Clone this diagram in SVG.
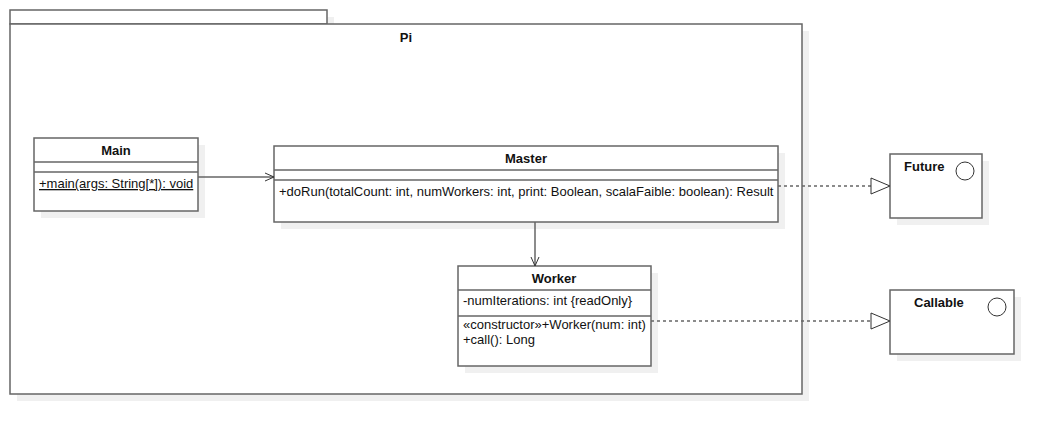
<svg xmlns="http://www.w3.org/2000/svg" width="1054" height="434" viewBox="0 0 1054 434">
<defs>
<style>
.box{fill:#fff;stroke:#666;stroke-width:1.5}
.sh{fill:#f0f0f0;stroke:none}
.ln{stroke:#666;stroke-width:1.5;fill:none}
.t{font-family:"Liberation Sans",Arial,sans-serif;font-size:13px;fill:#111}
.b{font-weight:bold}
.dash{stroke:#666;stroke-width:1.5;fill:none;stroke-dasharray:3 3}
</style>
<marker id="open" markerWidth="12" markerHeight="12" refX="10" refY="5" orient="auto" markerUnits="userSpaceOnUse">
<path d="M1,1 L10,5 L1,9" fill="none" stroke="#333" stroke-width="1"/>
</marker>
<marker id="tri" markerWidth="22" markerHeight="20" refX="20" refY="9" orient="auto" markerUnits="userSpaceOnUse">
<path d="M1,1 L20,9 L1,17 Z" fill="#fff" stroke="#333" stroke-width="1"/>
</marker>
</defs>
<rect width="1054" height="434" fill="#fff"/>
<g id="Pi">
<rect class="sh" x="17" y="17" width="317" height="14"/>
<rect class="sh" x="17" y="31" width="792" height="370"/>
<rect class="box" x="10" y="10" width="317" height="14"/>
<rect class="box" x="10" y="24" width="792" height="370"/>
<text class="t b" x="406" y="42" text-anchor="middle">Pi</text>
</g>
<g id="Main">
<rect class="sh" x="41" y="145" width="164" height="73"/>
<rect class="box" x="34" y="138" width="164" height="73"/>
<line class="ln" x1="34" y1="162" x2="198" y2="162"/>
<line class="ln" x1="34" y1="172" x2="198" y2="172"/>
<text class="t b" x="116" y="155" text-anchor="middle">Main</text>
<text class="t" x="39" y="188" text-decoration="underline">+main(args: String[*]): void</text>
</g>
<g id="Master">
<rect class="sh" x="281" y="153" width="504" height="76"/>
<rect class="box" x="274" y="146" width="504" height="76"/>
<line class="ln" x1="274" y1="170" x2="778" y2="170"/>
<line class="ln" x1="274" y1="180" x2="778" y2="180"/>
<text class="t b" x="526" y="163" text-anchor="middle">Master</text>
<text class="t" x="279" y="196">+doRun(totalCount: int, numWorkers: int, print: Boolean, scalaFaible: boolean): Result</text>
</g>
<g id="Worker">
<rect class="sh" x="465" y="273" width="193" height="100"/>
<rect class="box" x="458" y="266" width="193" height="100"/>
<line class="ln" x1="458" y1="290" x2="651" y2="290"/>
<line class="ln" x1="458" y1="316" x2="651" y2="316"/>
<text class="t b" x="554" y="283" text-anchor="middle">Worker</text>
<text class="t" x="463" y="305">-numIterations: int {readOnly}</text>
<text class="t" x="463" y="329">«constructor»+Worker(num: int)</text>
<text class="t" x="463" y="344">+call(): Long</text>
</g>
<g id="Future">
<rect class="sh" x="897" y="161" width="92" height="64"/>
<rect class="box" x="890" y="154" width="92" height="64"/>
<text class="t b" x="904" y="171">Future</text>
<circle cx="965" cy="171" r="9" fill="#fff" stroke="#333" stroke-width="1"/>
</g>
<g id="Callable">
<rect class="sh" x="897" y="297" width="124" height="64"/>
<rect class="box" x="890" y="290" width="124" height="64"/>
<text class="t b" x="914" y="307">Callable</text>
<circle cx="997" cy="307" r="9" fill="#fff" stroke="#333" stroke-width="1"/>
</g>
<g id="connectors">
<line class="ln" x1="198" y1="177" x2="274" y2="177" marker-end="url(#open)"/>
<line class="ln" x1="535" y1="222" x2="535" y2="266" marker-end="url(#open)"/>
<line class="dash" x1="778" y1="186" x2="890" y2="186" marker-end="url(#tri)"/>
<line class="dash" x1="651" y1="321" x2="890" y2="321" marker-end="url(#tri)"/>
</g>
</svg>
